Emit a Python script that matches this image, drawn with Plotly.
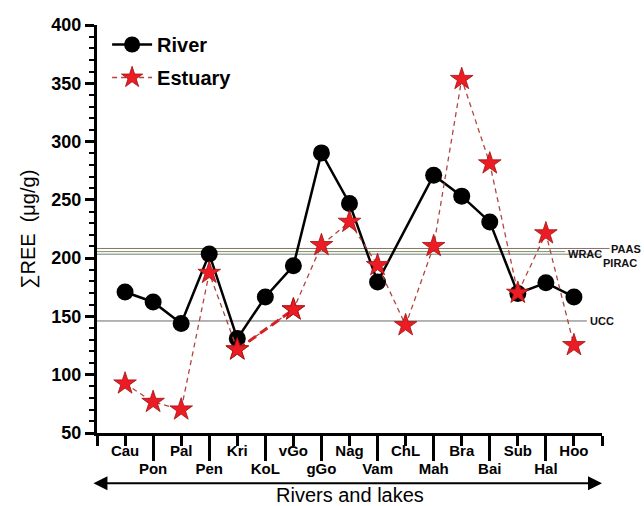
import plotly.graph_objects as go

categories = ["Cau", "Pon", "Pal", "Pen", "Kri", "KoL", "vGo", "gGo", "Nag",
              "Vam", "ChL", "Mah", "Bra", "Bai", "Sub", "Hal", "Hoo"]
river = [171.0, 162.4, 143.9, 203.6, 131.0, 166.7, 193.4, 290.3, 246.9,
         179.6, None, 271.2, 253.2, 231.1, 169.7, 178.8, 166.7]
estuary = [92.4, 76.6, 70.1, 187.3, 121.6, None, 155.9, 211.1, 231.1,
           194.0, 142.4, 210.3, 353.6, 281.2, 170.2, 221.2, 125.3]
ref_names = ["PAAS", "WRAC", "PIRAC", "UCC"]
ref_values = [208.3, 205.6, 203.4, 146.1]
y_ticks = [50, 100, 150, 200, 250, 300, 350, 400]

x = list(range(len(categories)))
even_idx = [i for i in x if i % 2 == 0]
odd_idx = [i for i in x if i % 2 == 1]

STAR = dict(symbol="star", size=17, color="#ec1c24",
            line=dict(color="#a01010", width=0.8))

fig = go.Figure()

# River
fig.add_trace(go.Scatter(
    x=x, y=river, name="<b>River</b>", mode="lines+markers", connectgaps=True,
    line=dict(color="black", width=2.5),
    marker=dict(symbol="circle", size=17, color="black"),
    legendgroup="r"))

# Estuary (thin dashed)
fig.add_trace(go.Scatter(
    x=x, y=estuary, name="<b>Estuary</b>", mode="lines+markers",
    connectgaps=True,
    line=dict(color="#b0473f", width=1.3, dash="5px,4px"),
    marker=STAR, legendgroup="e"))

# thicker dashed segment bridging the gap (Kri -> vGo)
gap_i = categories.index("KoL")
seg_x = [gap_i - 1, gap_i + 1]
seg_y = [estuary[gap_i - 1], estuary[gap_i + 1]]
fig.add_trace(go.Scatter(
    x=seg_x, y=seg_y, mode="lines", showlegend=False, hoverinfo="skip",
    line=dict(color="#d62024", width=3, dash="9px,5px")))
fig.add_trace(go.Scatter(
    x=seg_x, y=seg_y, mode="markers", showlegend=False, hoverinfo="skip",
    marker=STAR))

# dummy trace for secondary x axis (odd tick labels)
fig.add_trace(go.Scatter(x=[None], y=[None], xaxis="x2", showlegend=False,
                         hoverinfo="skip"))

ref_colors = ["#8a7068", "#6e9a5c", "#7a7a7a", "#6a6a6a"]
ref_ends = [1.015, 0.927, 0.998, 0.97]
ref_label_x = [1.013, 0.928, 0.998, 0.972]
ref_label_shift = [-1, -2, -9, 0]
shapes = []
annotations = []
for n, v, c, e, lx, ls in zip(ref_names, ref_values, ref_colors, ref_ends,
                              ref_label_x, ref_label_shift):
    shapes.append(dict(type="line", xref="paper", yref="y", x0=0, x1=e,
                       y0=v, y1=v, line=dict(color=c, width=1), layer="below"))
    annotations.append(dict(text=f"<b>{n}</b>", xref="paper", yref="y", x=lx,
                            y=v, yshift=ls, xanchor="left", yanchor="middle",
                            showarrow=False,
                            font=dict(family="Arial", size=11, color="#111")))

# double-headed arrow under the axis
annotations.append(dict(xref="x", yref="paper", axref="x", ayref="pixel",
                        x=len(categories), y=-0.123,
                        ax=-1.18, ay=0, text="", showarrow=True,
                        arrowhead=2, startarrowhead=2, arrowside="end+start",
                        arrowsize=1.4, startarrowsize=1.4, arrowwidth=2,
                        arrowcolor="black"))
annotations.append(dict(text="Rivers and lakes", xref="x", yref="paper",
                        x=(len(categories) - 1) / 2, y=-0.153,
                        showarrow=False, xanchor="center", yanchor="middle",
                        font=dict(family="Arial", size=20, color="black")))
annotations.append(dict(text="∑REE  (μg/g)", xref="paper", yref="paper",
                        x=-0.137, y=0.5, textangle=-90, showarrow=False,
                        xanchor="center", yanchor="middle",
                        font=dict(family="Arial", size=20, color="black")))

fig.update_layout(
    width=644, height=506,
    margin=dict(l=97, r=42, t=25, b=73),
    paper_bgcolor="white", plot_bgcolor="white",
    font=dict(family="Arial", color="black"),
    shapes=shapes, annotations=annotations,
    legend=dict(x=0.02, y=1.0, xanchor="left", yanchor="top",
                bgcolor="rgba(0,0,0,0)", font=dict(size=20, family="Arial"),
                itemwidth=40, tracegroupgap=4, traceorder="grouped"),
    xaxis=dict(range=[-1, len(categories)], tickmode="array",
               tickvals=[-1] + even_idx + [len(categories)],
               ticktext=[""] + [f"<b>{categories[i]}</b>" for i in even_idx] + [""],
               ticks="outside", ticklen=10, tickwidth=2.5, tickcolor="black",
               ticklabelstandoff=-8,
               showline=True, linewidth=3, linecolor="black",
               showgrid=False, zeroline=False,
               tickfont=dict(size=15, family="Arial")),
    xaxis2=dict(range=[-1, len(categories)], overlaying="x", anchor="y",
                side="bottom", tickmode="array", tickvals=odd_idx,
                ticktext=[f"<b>{categories[i]}</b>" for i in odd_idx],
                ticks="outside", ticklen=27, tickwidth=2.5, tickcolor="black",
                ticklabelstandoff=-5,
                showline=False, showgrid=False, zeroline=False,
                tickfont=dict(size=15, family="Arial")),
    yaxis=dict(range=[50, 400], tickmode="array", tickvals=y_ticks,
               ticktext=[f"<b>{t}</b>" for t in y_ticks],
               ticks="outside", ticklen=9, tickwidth=2.5, tickcolor="black",
               minor=dict(dtick=10, ticks="outside", ticklen=5, tickwidth=2,
                          tickcolor="black", showgrid=False),
               showline=True, linewidth=3, linecolor="black",
               showgrid=False, zeroline=False,
               tickfont=dict(size=18, family="Arial")),
    showlegend=True,
)

fig.write_html("out.html")
